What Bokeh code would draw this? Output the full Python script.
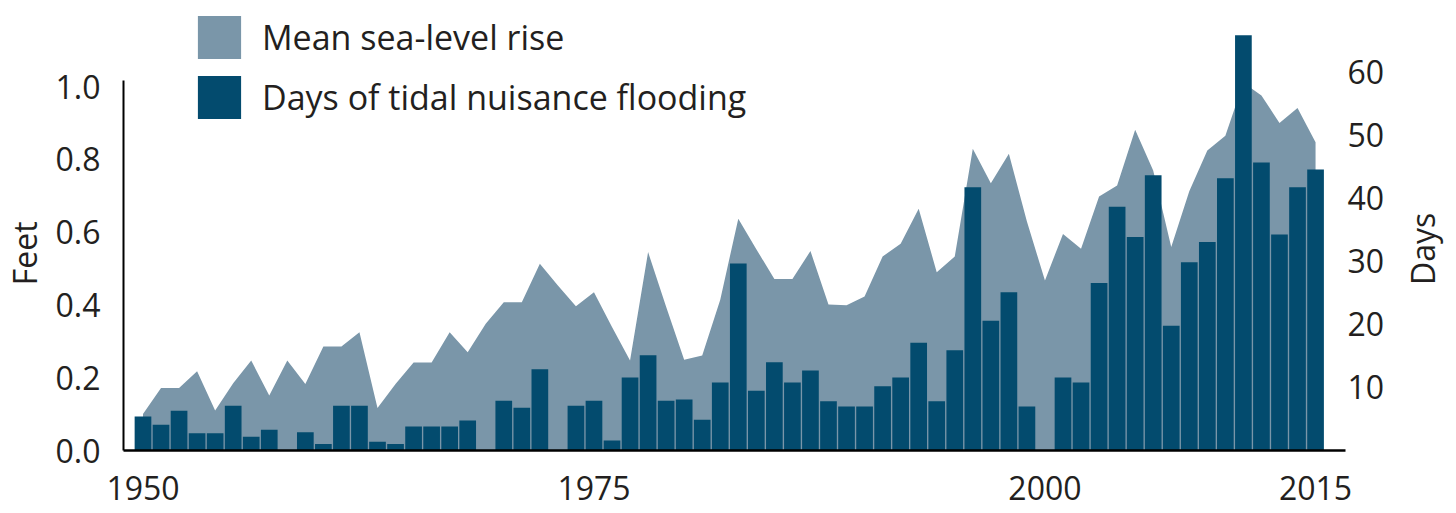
import math
from bokeh.plotting import figure
from bokeh.layouts import row
from bokeh.models import (Range1d, LinearAxis, FixedTicker, PrintfTickFormatter,
                          Legend, LegendItem)
from bokeh.core.properties import value
from bokeh.embed import file_html
from bokeh.resources import INLINE

# ---------------- data ----------------
years = list(range(1950, 2016))

sea_level_ft = [
    0.100, 0.172, 0.172, 0.218, 0.110, 0.185, 0.247, 0.151, 0.247, 0.183,   # 1950-59
    0.286, 0.286, 0.325, 0.117, 0.183, 0.242, 0.242, 0.325, 0.270, 0.348,   # 1960-69
    0.407, 0.407, 0.513, 0.453, 0.396, 0.435, 0.339, 0.247, 0.545, 0.395,   # 1970-79
    0.249, 0.261, 0.414, 0.637, 0.553, 0.471, 0.471, 0.548, 0.401, 0.399,   # 1980-89
    0.423, 0.533, 0.568, 0.664, 0.490, 0.533, 0.829, 0.734, 0.815, 0.629,   # 1990-99
    0.467, 0.595, 0.554, 0.698, 0.728, 0.881, 0.769, 0.559, 0.712, 0.824,   # 2000-09
    0.865, 1.010, 0.975, 0.900, 0.941, 0.847,                               # 2010-15
]

flood_days = [
    5.4, 4.1, 6.3, 2.75, 2.75, 7.1, 2.2, 3.3, 0.0, 2.9,        # 1950-59
    1.05, 7.1, 7.1, 1.4, 1.05, 3.8, 3.8, 3.8, 4.76, 0.0,       # 1960-69
    7.9, 6.8, 12.9, 0.0, 7.1, 7.9, 1.6, 11.6, 15.1, 7.9,       # 1970-79
    8.1, 4.9, 10.8, 29.7, 9.5, 14.0, 10.8, 12.7, 7.8, 7.0,     # 1980-89
    7.0, 10.2, 11.6, 17.1, 7.8, 15.9, 41.8, 20.6, 25.1, 7.0,   # 1990-99
    0.0, 11.6, 10.8, 26.6, 38.7, 33.9, 43.7, 19.8, 29.9, 33.1, # 2000-09
    43.2, 65.9, 45.7, 34.3, 41.8, 44.6,                        # 2010-15
]

x_ticks = [1950, 1975, 2000, 2015]
feet_ticks = [0.0, 0.2, 0.4, 0.6, 0.8, 1.0]
day_ticks = [10, 20, 30, 40, 50, 60]

series_labels = ["Mean sea-level rise", "Days of tidal nuisance flooding"]
axis_titles = ["Feet", "Days"]

# ---------------- style ----------------
AREA_COLOR = "#7a96a9"
BAR_COLOR = "#034b6e"
TEXT_COLOR = "#231f20"
FONT = "Open Sans"
H = 513
LEFT_W, MAIN_W, RIGHT_W = 50, 1350, 56

# ---------------- main chart ----------------
p = figure(width=MAIN_W, height=H, output_backend="svg", toolbar_location=None,
           x_range=Range1d(1948.92, 2016.66), y_range=Range1d(0, 1.2088),
           min_border_left=73, min_border_right=55,
           min_border_top=10, min_border_bottom=63)
p.extra_y_ranges = {"days": Range1d(0, 69.84)}

p.xgrid.visible = False
p.ygrid.visible = False
p.outline_line_color = None
p.background_fill_color = "white"

area = p.varea(x=years, y1=0, y2=sea_level_ft, fill_color=AREA_COLOR, fill_alpha=1.0)
bars = p.vbar(x=years, top=flood_days, width=0.925, bottom=0, y_range_name="days",
              fill_color=BAR_COLOR, line_color=None)

# x axis
xa = p.xaxis[0]
xa.ticker = FixedTicker(ticks=x_ticks)
xa.major_tick_line_color = None
xa.minor_tick_line_color = None
xa.major_tick_out = 0
xa.major_tick_in = 0
xa.axis_line_width = 2.5
xa.axis_line_color = "black"
xa.major_label_standoff = 25
xa.major_label_text_font = FONT
xa.major_label_text_font_size = "32px"
xa.major_label_text_color = TEXT_COLOR

# left axis (feet)
ya = p.yaxis[0]
ya.ticker = FixedTicker(ticks=feet_ticks)
ya.formatter = PrintfTickFormatter(format="%.1f")
ya.bounds = (0, 1.016)
ya.major_tick_line_color = None
ya.minor_tick_line_color = None
ya.major_tick_out = 0
ya.major_tick_in = 0
ya.axis_line_width = 2
ya.axis_line_color = "black"
ya.major_label_standoff = 23
ya.major_label_text_font = FONT
ya.major_label_text_font_size = "32px"
ya.major_label_text_color = TEXT_COLOR

# right axis (days)
ra = LinearAxis(y_range_name="days", ticker=FixedTicker(ticks=day_ticks))
ra.axis_line_color = None
ra.major_tick_line_color = None
ra.minor_tick_line_color = None
ra.major_tick_out = 0
ra.major_tick_in = 0
ra.major_label_standoff = 2
ra.major_label_text_font = FONT
ra.major_label_text_font_size = "32px"
ra.major_label_text_color = TEXT_COLOR
p.add_layout(ra, "right")

legend_style = dict(orientation="vertical", glyph_width=54, glyph_height=54,
                    label_height=54, label_standoff=16, spacing=0,
                    padding=0, margin=0, border_line_color=None,
                    background_fill_alpha=0, label_text_font=FONT,
                    label_text_font_size="34px", label_text_color=TEXT_COLOR)
p.add_layout(Legend(items=[LegendItem(label=series_labels[0], renderers=[area])],
                    location=(69, 386), **legend_style))
p.add_layout(Legend(items=[LegendItem(label=series_labels[1], renderers=[bars])],
                    location=(69, 326), **legend_style))


# ---------------- side strips holding the rotated axis titles ----------------
def title_strip(width, title, x_px, y_px):
    s = figure(width=width, height=H, output_backend="svg", toolbar_location=None,
               x_range=Range1d(0, width), y_range=Range1d(H, 0),
               x_axis_type=None, y_axis_type=None, title=None,
               min_border_left=0, min_border_right=0,
               min_border_top=0, min_border_bottom=0)
    s.xgrid.visible = False
    s.ygrid.visible = False
    s.outline_line_color = None
    s.text(x=[x_px], y=[y_px], text=[title], angle=math.pi / 2,
           text_align="center", text_baseline="middle",
           text_font=value(FONT), text_font_size=value("32px"),
           text_color=TEXT_COLOR)
    return s


left_strip = title_strip(LEFT_W, axis_titles[0], 24, 283)
right_strip = title_strip(RIGHT_W, axis_titles[1], 22, 278)

layout = row(left_strip, p, right_strip)
open("out.html", "w").write(file_html(layout, INLINE))
